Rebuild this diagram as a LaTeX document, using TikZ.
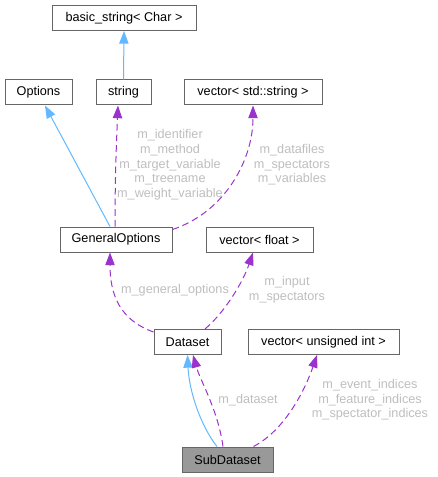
\documentclass[tikz,border=0pt]{standalone}
\usepackage{fontspec}
\setmainfont{Liberation Sans}
\usetikzlibrary{calc,arrows.meta}
\definecolor{edgeblue}{HTML}{63B8FF}
\definecolor{edgepurple}{HTML}{9A32CD}
\definecolor{boxgray}{HTML}{666666}
\definecolor{labelgray}{HTML}{BEBEBE}
\definecolor{curgray}{HTML}{999999}
\tikzset{
	cls/.style={draw=boxgray, line width=0.75pt, minimum height=25*0.75pt, inner sep=0pt, font=\fontsize{9.5}{11}\selectfont},
	lbl/.style={text=labelgray, align=center, inner sep=0pt, font=\fontsize{9.5}{11}\selectfont},
	inherit/.style={draw=edgeblue, line width=0.75pt, -{Triangle[length=9.5pt,width=7pt]}},
	uses/.style={draw=edgepurple, line width=0.75pt, dash pattern=on 5pt off 3pt, -{Triangle[length=9.5pt,width=7pt]}},
}
\begin{document}
\begin{tikzpicture}[x=0.75pt, y=-0.75pt]
		%%%%% START %%%%%
		\useasboundingbox (0, 0) rectangle (437, 477);
		
		\node[cls, minimum width=144*0.75pt] (basic) at (124, 18) {basic\_string< Char >};
		
		\node[cls, minimum width=67*0.75pt] (options) at (38.5, 92.5) {Options};
		\node[cls, minimum width=55*0.75pt] (string) at (123.5, 92.5) {string};
		\node[cls, minimum width=138*0.75pt] (vecstr) at (253, 92.5) {vector< std::string >};
		
		\node[cls, minimum width=112*0.75pt] (genopt) at (116, 239.5) {GeneralOptions};
		\node[cls, minimum width=107*0.75pt] (vecfloat) at (259.5, 239.5) {vector< float >};
		
		\node[cls, minimum width=67*0.75pt] (dataset) at (187.5, 342) {Dataset};
		\node[cls, minimum width=151*0.75pt] (vecuint) at (323.5, 342) {vector< unsigned int >};
		
		\node[cls, minimum width=91*0.75pt, fill=curgray] (subdata) at (227.5, 459.5) {SubDataset};
		
		% inheritance
		\draw[inherit] (string.north) -- (basic.south);
		\draw[inherit] ($(genopt.north)+(-6, 0)$) -- ($(options.south)+(6.5, 0)$);
		\draw[inherit] ($(subdata.north)+(-10.5, 0)$) .. controls (200, 425) and (189, 390) .. (dataset.south);
		
		% members
		\draw[uses] ($(genopt.north)+(-1, 0)$) .. controls (115, 170) and (117, 130) .. ($(string.south)+(-5.5, 0)$);
		\draw[uses] ($(genopt.north east)+(0, 3)$) .. controls (225, 212) and (253, 160) .. (vecstr.south);
		\draw[uses] ($(dataset.north west)+(0, 3)$) .. controls (120, 320) and (110, 295) .. ($(genopt.south)+(-6, 0)$);
		\draw[uses] ($(dataset.north)+(17.5, 0)$) .. controls (225, 312) and (243, 282) .. ($(vecfloat.south)+(-6.5, 0)$);
		\draw[uses] ($(subdata.north)+(-4.5, 0)$) .. controls (218, 410) and (200, 380) .. ($(dataset.south)+(5.5, 0)$);
		\draw[uses] ($(subdata.north east)+(-20, 0)$) .. controls (285, 430) and (305, 390) .. ($(vecuint.south)+(-6.5, 0)$);
		
		\node[lbl] (lblstring) at (170, 165) {m\_identifier\\m\_method\\m\_target\_variable\\m\_treename\\m\_weight\_variable};
		\node[lbl] (lblvecstr) at (292, 165) {m\_datafiles\\m\_spectators\\m\_variables};
		\node[lbl] (lblgenopt) at (175, 290) {m\_general\_options};
		\node[lbl] (lblfloat) at (287, 289.5) {m\_input\\m\_spectators};
		\node[lbl] (lbldataset) at (248, 400) {m\_dataset};
		\node[lbl] (lbluint) at (370, 400) {m\_event\_indices\\m\_feature\_indices\\m\_spectator\_indices};
		
		%%%%% END %%%%%
	\end{tikzpicture}
\end{document}
